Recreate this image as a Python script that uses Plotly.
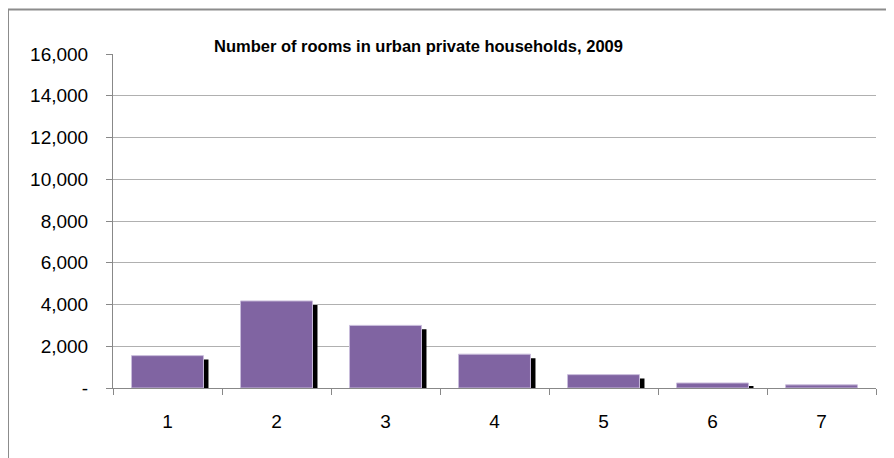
import plotly.graph_objects as go

# rooms per household (categories) and number of households
rooms = ["1", "2", "3", "4", "5", "6", "7"]
households = [1550, 4170, 3000, 1620, 640, 240, 150]

y_ticks = [0, 2000, 4000, 6000, 8000, 10000, 12000, 14000, 16000]
y_labels = ["-", "2,000", "4,000", "6,000", "8,000", "10,000", "12,000", "14,000", "16,000"]

purple = "#8064A2"
font = "Liberation Sans"

# excel-ish drop shadow: same bars, nudged right and down a few px
shadow_dx = 0.046   # category units (~5px)
shadow_dy = 190     # data units (~4px)
shadow = [max(v - shadow_dy, 0) for v in households]

fig = go.Figure()
fig.add_trace(go.Bar(x=rooms, y=shadow, width=0.66, offset=-0.33 + shadow_dx,
                     marker=dict(color="black", line=dict(width=0)),
                     hoverinfo="skip", showlegend=False))
fig.add_trace(go.Bar(x=rooms, y=households, width=0.66, offset=-0.33,
                     marker=dict(color=purple, line=dict(color="#C9BCDB", width=1)),
                     showlegend=False))

# page body has an 8px margin, so the figure is shrunk by that much
fig.update_layout(
    barmode="overlay",
    width=886, height=450,
    margin=dict(l=105, r=18, t=46, b=70),
    paper_bgcolor="white", plot_bgcolor="white",
    font=dict(family=font, color="black"),
    annotations=[dict(text="<b>Number of rooms in urban private households, 2009</b>",
                      xref="paper", yref="paper", x=0.4, y=1.0,
                      xanchor="center", yanchor="bottom", yshift=-3,
                      showarrow=False, font=dict(size=16.5, family=font))],
    shapes=[dict(type="rect", xref="paper", yref="paper",
                 x0=-0.1376, x1=1.05, y0=-0.25, y1=1.133,
                 line=dict(color="#8c8c8c", width=2), layer="below")],
)

fig.update_xaxes(type="category", tickson="boundaries", ticks="outside", ticklen=6,
                 tickcolor="#888888", showline=True, linecolor="#888888", linewidth=1,
                 showgrid=False, tickfont=dict(size=19), ticklabelstandoff=16)
fig.update_yaxes(range=[0, 16000], tickvals=y_ticks, ticktext=y_labels,
                 ticks="outside", ticklen=6, tickcolor="#888888",
                 showline=True, linecolor="#888888", linewidth=1,
                 gridcolor="#b0b0b0", gridwidth=1, zeroline=False,
                 tickfont=dict(size=19), ticklabelstandoff=14)

fig.write_html("out.html")
